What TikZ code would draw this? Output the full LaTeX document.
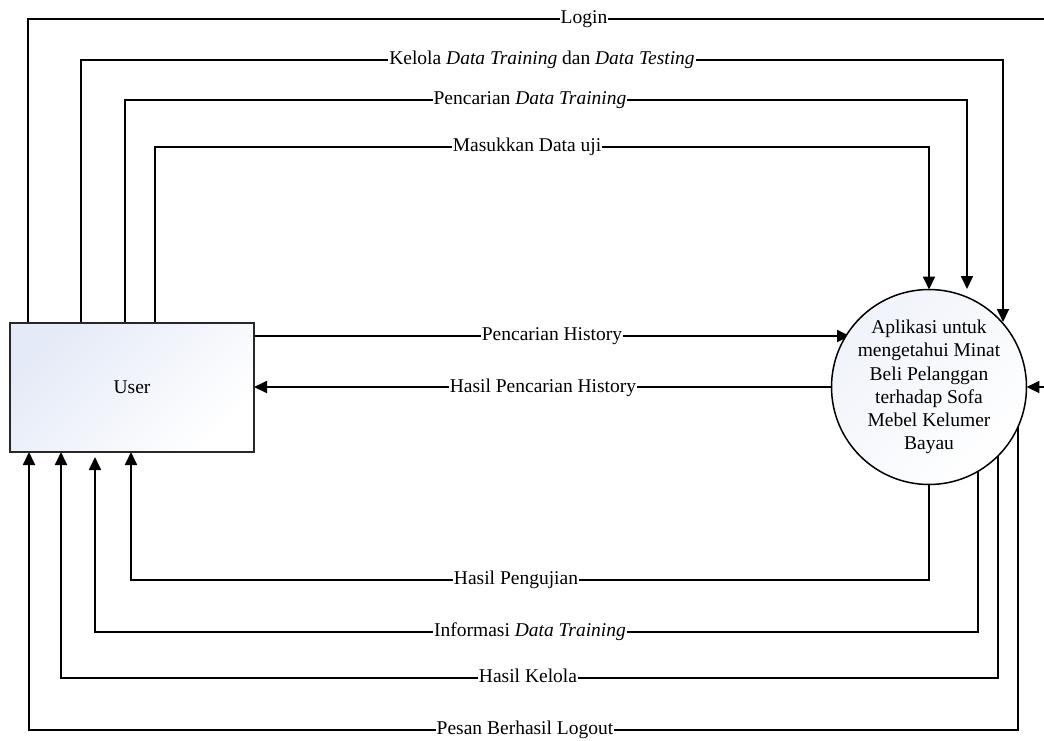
\documentclass[tikz,border=0pt]{standalone}
\usepackage{fontspec}
\setmainfont{Liberation Serif}
\usetikzlibrary{arrows.meta,backgrounds}
\definecolor{userfill}{RGB}{228,234,247}
\definecolor{procfill}{RGB}{240,243,250}
\definecolor{edge}{RGB}{40,40,40}
\tikzset{
  userbox/.style={draw=edge, line width=1.5pt, rectangle, inner sep=0pt, outer sep=0pt,
    top color=userfill, bottom color=white, shading angle=45,
    minimum width=244pt, minimum height=129pt},
  procnode/.style={draw=black, line width=1.5pt, circle, inner sep=0pt, outer sep=0pt,
    top color=procfill, bottom color=white, shading angle=45,
    minimum size=192pt, align=center},
  flow/.style={line width=1.8pt, black, -{Triangle[length=13pt,width=12pt]}},
  lbl/.style={fill=white, inner xsep=1pt, inner ysep=0pt, text height=13pt, text depth=4pt},
}
\begin{document}
\begin{tikzpicture}[x=1pt, y=-1pt, font=\fontsize{19.5}{23.2}\selectfont]
  \useasboundingbox (0,0) rectangle (1044,740);
  \clip (0,0) rectangle (1044,740);

  % external entity and process
  \node[userbox] (user) at (132,387.5) {User};
  \node[procnode] (proc) at (929,387) {Aplikasi untuk\\mengetahui Minat\\Beli Pelanggan\\terhadap Sofa\\Mebel Kelumer\\Bayau};

  % free ends of the flows
  \coordinate (kelolaTip) at (1003,322);
  \coordinate (cariTip) at (967,289);
  \coordinate (histTip) at (850,336);
  \coordinate (infoStart) at (978,470);
  \coordinate (kelolaStart) at (998,454);
  \coordinate (logoutStart) at (1018,423);

  \begin{scope}[on background layer]
    % flows from the user to the application
    \draw[flow] (28,0 |- user.north) |- (1070,19) -- (1070,0 |- proc.east) -- (proc.east);
    \node[lbl] (lLogin) at (584,19) {Login};

    \draw[flow] (81,0 |- user.north) |- (1003,60) -- (kelolaTip);
    \node[lbl] (lKelola) at (542,60) {Kelola \textit{Data Training} dan \textit{Data Testing}};

    \draw[flow] (125,0 |- user.north) |- (967,100) -- (cariTip);
    \node[lbl] (lCari) at (530,100) {Pencarian \textit{Data Training}};

    \draw[flow] (155,0 |- user.north) |- (929,147) -- (proc.north);
    \node[lbl] (lUji) at (527,147) {Masukkan Data uji};

    \draw[flow] (user.east |- histTip) -- (histTip);
    \node[lbl] (lHist) at (552,336) {Pencarian History};

    % flows from the application back to the user
    \draw[flow] (proc.west) -- (user.east |- proc.west);
    \node[lbl] (lHasilHist) at (543,388) {Hasil Pencarian History};

    \draw[flow] (proc.south) |- (131,580) -- (131,0 |- user.south);
    \node[lbl] (lUjian) at (516,580) {Hasil Pengujian};

    \draw[flow] (infoStart) |- (95,632) -- (95,457);
    \node[lbl] (lInfo) at (530,632) {Informasi \textit{Data Training}};

    \draw[flow] (kelolaStart) |- (61,678) -- (61,0 |- user.south);
    \node[lbl] (lHasilKelola) at (528,678) {Hasil Kelola};

    \draw[flow] (logoutStart) |- (29,730) -- (29,0 |- user.south);
    \node[lbl] (lLogout) at (525,730) {Pesan Berhasil Logout};
  \end{scope}
\end{tikzpicture}
\end{document}
